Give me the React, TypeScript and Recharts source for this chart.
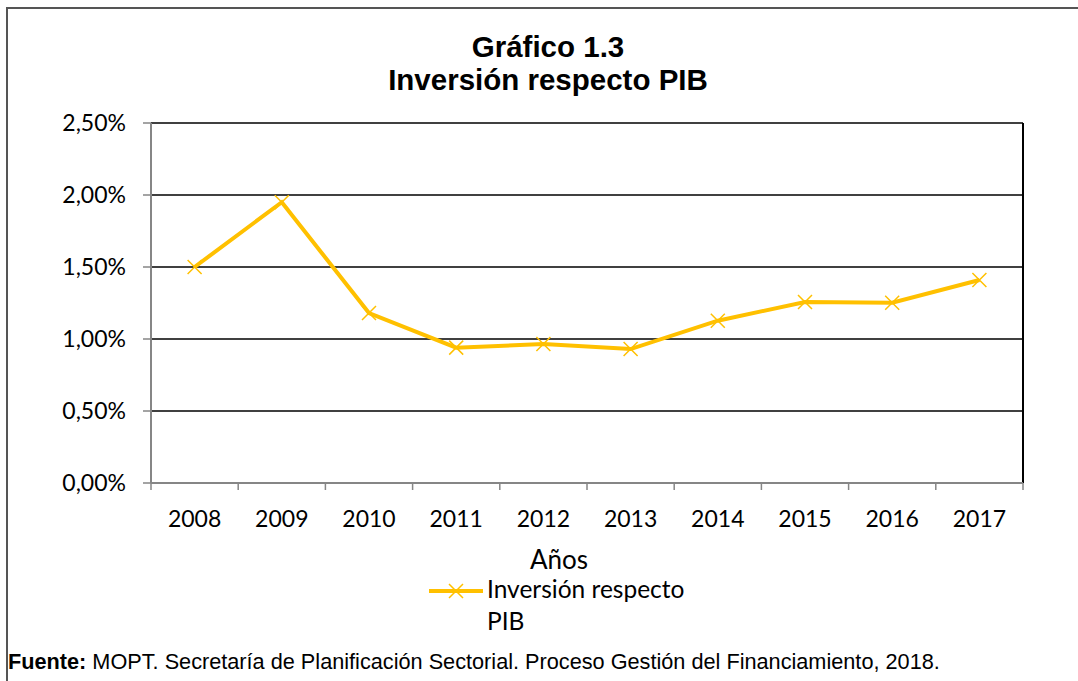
import { LineChart, Line, XAxis, YAxis, CartesianGrid, ReferenceLine } from "recharts";

const YEARS = ["2008", "2009", "2010", "2011", "2012", "2013", "2014", "2015", "2016", "2017"];
const INVERSION_PIB = [0.015, 0.0195, 0.0118, 0.0094, 0.00965, 0.0093, 0.01127, 0.01257, 0.01252, 0.0141];
const Y_TICKS = [0, 0.005, 0.01, 0.015, 0.02, 0.025];
const EDGE_TICKS = [0, 1, 2, 3, 4, 5, 6, 7, 8, 9, 10];

const GOLD = "#FFC000";
const AXIS_GRAY = "#868686";
const CAL_FONT = "Lato, 'Open Sans', sans-serif";

// pos = centre of each category slot on the 0..10 boundary axis
const data = YEARS.map((year, i) => ({ year, pos: i + 0.5, value: INVERSION_PIB[i] }));

const fmtPct = (v: number) => (v * 100).toFixed(2).replace(".", ",") + "%";

function CrossDot(props: any) {
  const { cx, cy, index } = props;
  if (cx == null || cy == null) return <g key={index} />;
  const s = 7;
  return (
    <path
      key={index}
      d={`M${cx - s},${cy - s}L${cx + s},${cy + s}M${cx - s},${cy + s}L${cx + s},${cy - s}`}
      stroke={GOLD}
      strokeWidth={1.5}
      fill="none"
    />
  );
}

export default function App() {
  return (
    <div
      style={{
        position: "absolute",
        left: 0,
        top: 0,
        width: 1078,
        height: 681,
        overflow: "hidden",
        background: "#fff",
      }}
    >
      {/* outer frame, right/bottom edges fall outside the picture */}
      <div
        style={{
          position: "absolute",
          left: 6,
          top: 7,
          width: 1120,
          height: 720,
          border: "2px solid #555",
        }}
      />
      <div
        style={{
          position: "absolute",
          left: 0,
          width: 1096,
          top: 30,
          textAlign: "center",
          fontFamily: "Arial, 'Liberation Sans', sans-serif",
          fontWeight: "bold",
          fontSize: 29.5,
          lineHeight: "33px",
          color: "#000",
        }}
      >
        <div>Gráfico 1.3</div>
        <div>Inversión respecto PIB</div>
      </div>

      <div style={{ position: "absolute", left: 0, top: 0 }}>
        <LineChart
          width={1078}
          height={681}
          data={data}
          margin={{ top: 123, right: 55, left: 31, bottom: 130 }}
        >
          <CartesianGrid xAxisId="a" vertical={false} stroke="#000" strokeWidth={1.5} />
          <XAxis
            xAxisId="a"
            dataKey="pos"
            type="number"
            domain={[0, 10]}
            ticks={EDGE_TICKS}
            tickFormatter={() => ""}
            height={8}
            axisLine={{ stroke: AXIS_GRAY, strokeWidth: 2 }}
            tickLine={{ stroke: AXIS_GRAY, strokeWidth: 1.5 }}
            tickSize={7}
          />
          <XAxis
            xAxisId="b"
            dataKey="year"
            axisLine={false}
            tickLine={false}
            tickMargin={14}
            height={60}
            interval={0}
            padding={{ left: 43.6, right: 43.6 }}
            tick={{ fill: "#000", fontSize: 23, fontFamily: CAL_FONT }}
          />
          <YAxis
            domain={[0, 0.025]}
            ticks={Y_TICKS}
            tickFormatter={fmtPct}
            width={120}
            axisLine={{ stroke: AXIS_GRAY, strokeWidth: 2 }}
            tickLine={{ stroke: AXIS_GRAY, strokeWidth: 1.5 }}
            tickSize={8}
            tickMargin={17}
            tick={{ fill: "#000", fontSize: 23, fontFamily: CAL_FONT }}
          />
          <ReferenceLine xAxisId="a" x={10} stroke="#000" strokeWidth={2} />
          <Line
            xAxisId="a"
            type="linear"
            dataKey="value"
            stroke={GOLD}
            strokeWidth={4}
            dot={CrossDot}
            activeDot={false}
            isAnimationActive={false}
          />
        </LineChart>
      </div>

      <div
        style={{
          position: "absolute",
          left: 0,
          width: 1118,
          top: 543,
          textAlign: "center",
          fontFamily: CAL_FONT,
          fontSize: 26,
          color: "#000",
        }}
      >
        Años
      </div>

      {/* legend */}
      <div style={{ position: "absolute", left: 428, top: 574, fontFamily: CAL_FONT, fontSize: 24.5, color: "#000" }}>
        <svg width={56} height={30} style={{ position: "absolute", left: 0, top: 2 }}>
          <line x1={1} y1={15} x2={55} y2={15} stroke={GOLD} strokeWidth={4} />
          <path d="M21,8L35,22M21,22L35,8" stroke={GOLD} strokeWidth={1.5} />
        </svg>
        <div style={{ position: "absolute", left: 59, top: -1, whiteSpace: "nowrap", lineHeight: "32px" }}>
          Inversión respecto
          <br />
          PIB
        </div>
      </div>

      <div
        style={{
          position: "absolute",
          left: 8,
          top: 649,
          fontFamily: "Arial, 'Liberation Sans', sans-serif",
          fontSize: 21.7,
          color: "#000",
          whiteSpace: "nowrap",
        }}
      >
        <b>Fuente:</b> MOPT. Secretaría de Planificación Sectorial. Proceso Gestión del Financiamiento, 2018.
      </div>
    </div>
  );
}
